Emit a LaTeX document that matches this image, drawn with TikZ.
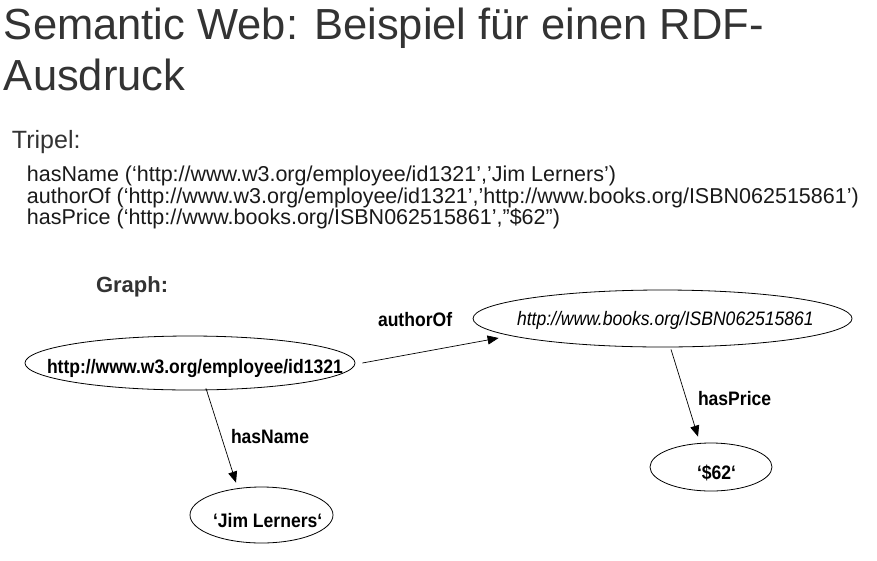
\documentclass[tikz,border=0pt]{standalone}
\usepackage{fontspec}
\setmainfont{Liberation Sans}
\newfontfamily\narrowsf[FakeStretch=0.9]{Liberation Sans}
\usetikzlibrary{shapes.geometric,arrows.meta}
\definecolor{titlegray}{HTML}{333333}
\definecolor{textgray}{HTML}{1A1A1A}
\tikzset{
  txt/.style = {anchor=base west, inner sep=0pt, outer sep=0pt},
  res/.style = {ellipse, draw, line width=0.8pt, inner sep=0pt,
                minimum width=#1},
  res/.default = 100pt,
  lbl/.style = {txt, font=\narrowsf\bfseries\fontsize{19.5}{22}\selectfont},
  arr/.style = {draw, line width=0.7pt, -{Triangle[length=11pt,width=9pt]}}
}

\begin{document}
\begin{tikzpicture}[x=1pt, y=-1pt]
	\def \tsize{\fontsize{43.5}{51}\selectfont}
	\def \ssize{\fontsize{25}{30}\selectfont}
	\def \lsize{\fontsize{21.5}{24}\selectfont}
	
	\useasboundingbox[fill=white] (0,0) rectangle (877,560);
	
	% Title
	\node[txt, color=titlegray, font=\tsize] (title1) at (4,39) {Semantic Web: Beispiel für einen RDF-};
	\node[txt, color=titlegray, font=\tsize] (title2) at (4,90.5) {Ausdruck};
	
	% Tripel
	\node[txt, color=titlegray, font=\ssize] (tripel) at (12,148) {Tripel:};
	\node[txt, color=textgray, font=\lsize] (t1) at (27,181.5) {hasName (‘http://www.w3.org/employee/id1321’,’Jim Lerners’)};
	\node[txt, color=textgray, font=\lsize] (t2) at (27,203) {authorOf (‘http://www.w3.org/employee/id1321’,’http://www.books.org/ISBN062515861’)};
	\node[txt, color=textgray, font=\lsize] (t3) at (27,224.5) {hasPrice (‘http://www.books.org/ISBN062515861’,”\$62”)};
	
	% Graph
	\node[txt, color=titlegray, font=\bfseries\fontsize{22}{26}\selectfont] (graph) at (96,292) {Graph:};
	
	% Resources
	\node[res=330pt, minimum height=54pt] (emp)   at (190,363)   {};
	\node[res=379pt, minimum height=57pt] (book)  at (662.5,318.5) {};
	\node[res=143pt, minimum height=56pt] (jim)   at (261.5,515) {};
	\node[res=122pt, minimum height=48pt] (price) at (711,467)   {};
	
	\node[lbl] (empt)   at (47,373)  {http://www.w3.org/employee/id1321};
	\node[txt, font=\narrowsf\itshape\fontsize{19.5}{22}\selectfont] (bookt) at (517,325) {http://www.books.org/ISBN062515861};
	\node[lbl] (jimt)   at (213,527) {‘Jim Lerners‘};
	\node[lbl] (pricet) at (697,479) {‘\$62‘};
	
	% Properties
	\draw[arr] ([xshift=7pt]emp.east) -- ([xshift=26pt,yshift=-19.5pt]book.west);
	\draw[arr] ([xshift=16pt,yshift=2pt]emp.south) -- ([xshift=-25.5pt,yshift=4pt]jim.north);
	\draw[arr] ([xshift=8.5pt,yshift=-2pt]book.south) -- ([xshift=-13pt,yshift=6pt]price.north);
	
	\node[lbl] (authorof) at (378,326) {authorOf};
	\node[lbl] (hasname)  at (231,443) {hasName};
	\node[lbl] (hasprice) at (698,405) {hasPrice};
	
\end{tikzpicture}
\end{document}
